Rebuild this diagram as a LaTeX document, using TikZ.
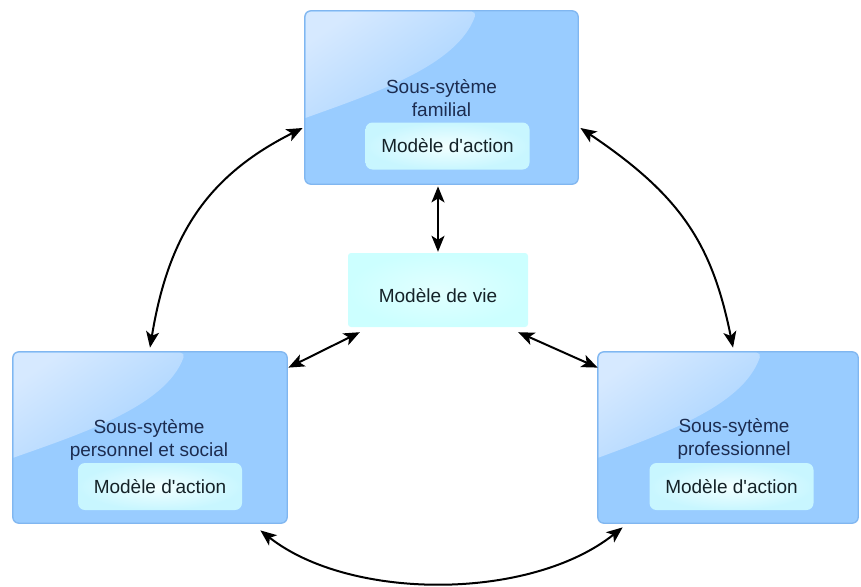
\documentclass[tikz,border=0pt]{standalone}
\usepackage{fontspec}
\setmainfont{Liberation Sans}
\usetikzlibrary{arrows.meta,calc}

\definecolor{boxblue}{RGB}{153,204,255}
\definecolor{boxedge}{RGB}{128,182,240}
\definecolor{glosslight}{RGB}{214,233,255}
\definecolor{glossfoot}{RGB}{165,210,255}
\definecolor{innerglow}{RGB}{242,255,255}
\definecolor{innerrim}{RGB}{200,246,255}
\definecolor{vieface}{RGB}{204,255,255}
\definecolor{vieglow}{RGB}{226,255,255}
\definecolor{titleink}{RGB}{28,44,80}
\definecolor{labelink}{RGB}{20,34,40}

\tikzset{
  bodyfont/.style={font=\fontsize{19}{23.5}\selectfont},
  subsystem/.style={draw=boxedge, line width=0.8pt, fill=boxblue,
    rounded corners=6pt, inner sep=0pt},
  subtitle/.style={bodyfont, text=titleink, align=center, inner sep=0pt},
  actionbox/.style={bodyfont, text=labelink, rounded corners=7pt, inner sep=0pt,
    inner color=innerglow, outer color=innerrim,
    minimum width=164pt, minimum height=47pt},
  viebox/.style={bodyfont, text=labelink, rounded corners=3pt, inner sep=0pt,
    inner color=vieglow, outer color=vieface,
    minimum width=180pt, minimum height=74pt, text height=24pt, text depth=0pt},
  link/.style={line width=2pt, black,
    {Stealth[length=16pt,width=13pt,inset=4pt]}-{Stealth[length=16pt,width=13pt,inset=4pt]}},
  gloss/.style={top color=glosslight, bottom color=glossfoot, shading angle=35}
}

% soft highlight in the upper-left part of a subsystem box
\newcommand\glossover[3]{%
  \begin{scope}[shift={(#1.north west)}, x={(#2pt,0pt)}, y={(0pt,-#3pt)}]
    \shade[gloss, rounded corners=5pt]
      (0.004,0.62) -- (0.004,0.006) -- (0.63,0.006)
      [sharp corners] .. controls (0.56,0.32) and (0.25,0.48) .. (0.004,0.62) -- cycle;
  \end{scope}
  \draw[boxedge, line width=0.8pt, rounded corners=6pt]
    (#1.north west) rectangle (#1.south east);
}

\begin{document}
\begin{tikzpicture}[x=1pt, y=-1pt]
  \useasboundingbox (0,0) rectangle (861,586);

  % the three subsystems
  \node[subsystem, minimum width=273pt, minimum height=173pt] (fam) at (441.5,97.5) {};
  \glossover{fam}{273}{173}
  \node[subsystem, minimum width=274pt, minimum height=171pt] (pers) at (150,437.5) {};
  \glossover{pers}{274}{171}
  \node[subsystem, minimum width=260pt, minimum height=171pt] (prof) at (728,437.5) {};
  \glossover{prof}{260}{171}

  % titles
  \node[subtitle] (famtitle) at (441.5,98) {Sous-sytème\\familial};
  \node[subtitle] (perstitle) at (149,440) {Sous-sytème\\personnel et social};
  \node[subtitle] (proftitle) at (734,439) {Sous-sytème\\professionnel};

  % action models
  \node[actionbox] (famact) at (447.5,146) {Modèle d\textquotesingle action};
  \node[actionbox] (persact) at (160,486.5) {Modèle d\textquotesingle action};
  \node[actionbox] (profact) at (731.5,486.5) {Modèle d\textquotesingle action};

  % life model
  \node[viebox] (vie) at (438,290) {Modèle de vie};

  % connectors
  \coordinate (famS) at ($(vie.north |- fam.south)+(0,2)$);
  \coordinate (vieN) at ($(vie.north)+(0,-1)$);
  \draw[link] (famS) -- (vieN);

  \coordinate (vieSW) at ($(vie.south west)+(12,5)$);
  \coordinate (persNE) at ($(pers.north east)+(1,16)$);
  \draw[link] (persNE) -- (vieSW);

  \coordinate (vieSE) at ($(vie.south east)+(-10,5)$);
  \coordinate (profNW) at ($(prof.north west)+(0,16)$);
  \draw[link] (vieSE) -- (profNW);

  \coordinate (famW) at ($(fam.west)+(-2,30.5)$);
  \coordinate (persN) at ($(pers.north)+(0,-4)$);
  \draw[link] (famW) .. controls (205,177) and (168,238) .. (persN);

  \coordinate (famE) at ($(fam.east)+(2,30.5)$);
  \coordinate (profN) at ($(prof.north)+(5,-4)$);
  \draw[link] (famE) .. controls (680,195) and (712,243) .. (profN);

  \coordinate (persSE) at ($(pers.south east)+(-27,7)$);
  \coordinate (profSW) at ($(prof.south west)+(25,4)$);
  \draw[link] (persSE) .. controls (350,601) and (530,601) .. (profSW);
\end{tikzpicture}
\end{document}
